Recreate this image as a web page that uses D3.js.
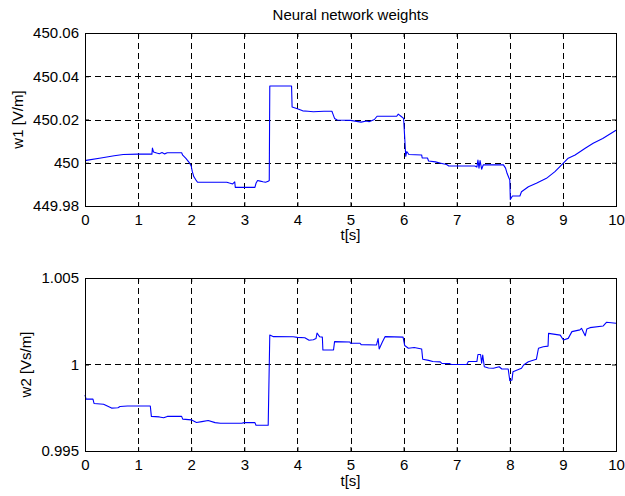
<!DOCTYPE html>
<html>
<head>
<meta charset="utf-8">
<script src="https://cdn.jsdelivr.net/npm/d3@7"></script>
<style>
  html, body { margin: 0; padding: 0; background: #fff; }
  svg { display: block; }
  text { font-family: "Liberation Sans", Arial, Helvetica, sans-serif; fill: #000; }
</style>
</head>
<body>
<svg id="chart" width="625" height="496"></svg>
<script>
// Time samples and weight values for the two network weights
const t1 = [0, 0.05, 0.3, 0.55, 0.72, 1.0, 1.26, 1.27, 1.29, 1.35, 1.4, 1.45, 1.5, 1.55, 1.82, 1.84, 1.9, 1.96, 2.0, 2.02, 2.05, 2.09, 2.12, 2.67, 2.72, 2.78, 2.82, 2.83, 3.2, 3.22, 3.25, 3.3, 3.35, 3.4, 3.45, 3.47, 3.48, 3.89, 3.9, 4.0, 4.05, 4.1, 4.2, 4.3, 4.5, 4.65, 4.67, 4.7, 4.75, 5.0, 5.2, 5.3, 5.35, 5.45, 5.5, 5.6, 5.87, 5.9, 5.95, 6.0, 6.02, 6.04, 6.06, 6.1, 6.34, 6.35, 6.45, 6.47, 6.6, 6.7, 6.81, 6.85, 7.34, 7.38, 7.4, 7.42, 7.44, 7.47, 7.5, 7.88, 7.92, 7.95, 8.0, 8.01, 8.05, 8.19, 8.22, 8.35, 8.5, 8.69, 8.85, 8.99, 9.1, 9.23, 9.42, 9.57, 9.75, 10];
const w1 = [450.0010, 450.0012, 450.0022, 450.0032, 450.0038, 450.0040, 450.0040, 450.0068, 450.0050, 450.0045, 450.0042, 450.0047, 450.0041, 450.0046, 450.0046, 450.0035, 450.0020, 450.0002, 449.9985, 449.9960, 449.9935, 449.9920, 449.9910, 449.9910, 449.9906, 449.9902, 449.9912, 449.9886, 449.9886, 449.9905, 449.9918, 449.9915, 449.9912, 449.9910, 449.9914, 449.9918, 450.0355, 450.0355, 450.0258, 450.0250, 450.0245, 450.0240, 450.0238, 450.0236, 450.0238, 450.0238, 450.0225, 450.0205, 450.0198, 450.0196, 450.0188, 450.0193, 450.0190, 450.0200, 450.0215, 450.0215, 450.0215, 450.0225, 450.0215, 450.0205, 450.0120, 450.0030, 450.0052, 450.0038, 450.0036, 450.0022, 450.0022, 450.0008, 450.0004, 449.9998, 449.9992, 449.9985, 449.9985, 449.9980, 450.0012, 449.9975, 450.0010, 449.9970, 449.9990, 449.9990, 449.9975, 449.9950, 449.9920, 449.9830, 449.9846, 449.9846, 449.9866, 449.9889, 449.9905, 449.9928, 449.9959, 449.9994, 450.0021, 450.0036, 450.0067, 450.0090, 450.0112, 450.0150];

const t2 = [0, 0.02, 0.15, 0.17, 0.35, 0.5, 0.62, 0.66, 0.8, 1.23, 1.25, 1.4, 1.48, 1.55, 1.82, 1.84, 2.0, 2.1, 2.2, 2.32, 2.45, 2.55, 2.95, 3.0, 3.2, 3.22, 3.45, 3.48, 3.55, 3.92, 4.0, 4.14, 4.22, 4.3, 4.35, 4.37, 4.42, 4.47, 4.48, 4.68, 4.70, 4.99, 5.0, 5.18, 5.2, 5.49, 5.52, 5.54, 5.6, 5.65, 5.99, 6.02, 6.09, 6.2, 6.34, 6.36, 6.47, 6.55, 6.69, 6.72, 6.87, 6.9, 7.19, 7.22, 7.38, 7.40, 7.45, 7.47, 7.49, 7.52, 7.6, 7.69, 7.8, 7.85, 7.97, 8.0, 8.04, 8.06, 8.22, 8.26, 8.35, 8.5, 8.54, 8.63, 8.72, 8.73, 8.95, 9.01, 9.1, 9.17, 9.32, 9.35, 9.42, 9.45, 9.51, 9.76, 9.82, 10];
const w2 = [0.99825, 0.99800, 0.99800, 0.99775, 0.99770, 0.99748, 0.99750, 0.99757, 0.99760, 0.99760, 0.99700, 0.99697, 0.99692, 0.99700, 0.99700, 0.99684, 0.99680, 0.99665, 0.99670, 0.99676, 0.99664, 0.99660, 0.99660, 0.99664, 0.99664, 0.99649, 0.99649, 1.00170, 1.00161, 1.00160, 1.00157, 1.00155, 1.00140, 1.00143, 1.00150, 1.00182, 1.00160, 1.00158, 1.00084, 1.00084, 1.00132, 1.00130, 1.00123, 1.00123, 1.00115, 1.00113, 1.00150, 1.00090, 1.00130, 1.00161, 1.00158, 1.00110, 1.00094, 1.00098, 1.00090, 1.00030, 1.00024, 1.00017, 1.00015, 1.00006, 1.00005, 1.00000, 1.00000, 1.00017, 1.00017, 1.00058, 1.00058, 1.00008, 1.00055, 0.99987, 0.99980, 0.99978, 0.99987, 0.99974, 0.99974, 0.99906, 0.99910, 0.99958, 0.99978, 0.99997, 1.00016, 1.00030, 1.00094, 1.00103, 1.00106, 1.00180, 1.00170, 1.00142, 1.00151, 1.00190, 1.00200, 1.00209, 1.00166, 1.00205, 1.00213, 1.00223, 1.00244, 1.00238];

// Axis ticks
const xTicks = [0, 1, 2, 3, 4, 5, 6, 7, 8, 9, 10];
const y1Ticks = [449.98, 450, 450.02, 450.04, 450.06];
const y1Labels = ["449.98", "450", "450.02", "450.04", "450.06"];
const y2Ticks = [0.995, 1, 1.005];
const y2Labels = ["0.995", "1", "1.005"];

const titleText = "Neural network weights";
const xLabel = "t[s]";
const y1Label = "w1 [V/m]";
const y2Label = "w2 [Vs/m]";

const svg = d3.select("#chart");
const left = 85, right = 616;

function panel(opts) {
  const { top, bottom, ts, vs, yTicks, yLabels, yLabel, yLabelX, xLabelY } = opts;
  const x = d3.scaleLinear().domain([0, 10]).range([left, right]);
  const y = d3.scaleLinear().domain([yTicks[0], yTicks[yTicks.length - 1]]).range([bottom, top]);
  const g = svg.append("g");

  // dashed grid
  const grid = g.append("g").attr("stroke", "#000").attr("stroke-width", 1)
    .attr("stroke-dasharray", "6,4").attr("shape-rendering", "crispEdges");
  grid.selectAll("line.vx").data(xTicks.slice(1, -1)).join("line")
    .attr("x1", d => Math.round(x(d)) + 0.5).attr("x2", d => Math.round(x(d)) + 0.5)
    .attr("y1", top).attr("y2", bottom);
  grid.selectAll("line.hy").data(yTicks.slice(1, -1)).join("line")
    .attr("x1", left).attr("x2", right)
    .attr("y1", d => Math.round(y(d)) + 0.5).attr("y2", d => Math.round(y(d)) + 0.5);

  // data line
  const pts = ts.map((t, i) => [t, vs[i]]);
  g.append("path").datum(pts)
    .attr("fill", "none").attr("stroke", "#0000ff").attr("stroke-width", 1.1)
    .attr("stroke-linejoin", "round")
    .attr("d", d3.line().x(d => x(d[0])).y(d => y(d[1])));

  // axes with inward ticks
  const xb = g.append("g").attr("transform", `translate(0,${bottom})`)
    .call(d3.axisBottom(x).tickValues(xTicks).tickSizeInner(-4).tickSizeOuter(0).tickPadding(8).tickFormat(d3.format("d")));
  const xt = g.append("g").attr("transform", `translate(0,${top})`)
    .call(d3.axisTop(x).tickValues(xTicks).tickSizeInner(-4).tickSizeOuter(0).tickFormat(""));
  const yl = g.append("g").attr("transform", `translate(${left},0)`)
    .call(d3.axisLeft(y).tickValues(yTicks).tickSizeInner(-4).tickSizeOuter(0).tickPadding(6)
      .tickFormat((d, i) => yLabels[i]));
  const yr = g.append("g").attr("transform", `translate(${right},0)`)
    .call(d3.axisRight(y).tickValues(yTicks).tickSizeInner(-4).tickSizeOuter(0).tickFormat(""));
  [xb, xt, yl, yr].forEach(a => {
    a.select(".domain").remove();
    a.selectAll("line").attr("stroke", "#000");
    a.selectAll("text").attr("font-size", 15).attr("font-family", "Liberation Sans, Arial, sans-serif").attr("fill", "#000");
  });
  xb.selectAll("text").attr("dy", "0.71em");

  // frame
  g.append("rect").attr("x", left + 0.5).attr("y", top + 0.5)
    .attr("width", right - left).attr("height", bottom - top)
    .attr("fill", "none").attr("stroke", "#000").attr("stroke-width", 1)
    .attr("shape-rendering", "crispEdges");

  // axis labels
  g.append("text").attr("x", (left + right) / 2).attr("y", xLabelY)
    .attr("text-anchor", "middle").attr("font-size", 15).text(xLabel);
  g.append("text").attr("transform", `translate(${yLabelX},${(top + bottom) / 2}) rotate(-90)`)
    .attr("text-anchor", "middle").attr("font-size", 15).text(yLabel);
}

svg.append("text").attr("x", (left + right) / 2).attr("y", 20)
  .attr("text-anchor", "middle").attr("font-size", 15).text(titleText);

panel({ top: 33, bottom: 206, ts: t1, vs: w1, yTicks: y1Ticks, yLabels: y1Labels, yLabel: y1Label, yLabelX: 23, xLabelY: 240 });
panel({ top: 278, bottom: 451, ts: t2, vs: w2, yTicks: y2Ticks, yLabels: y2Labels, yLabel: y2Label, yLabelX: 31, xLabelY: 486 });
</script>
</body>
</html>
